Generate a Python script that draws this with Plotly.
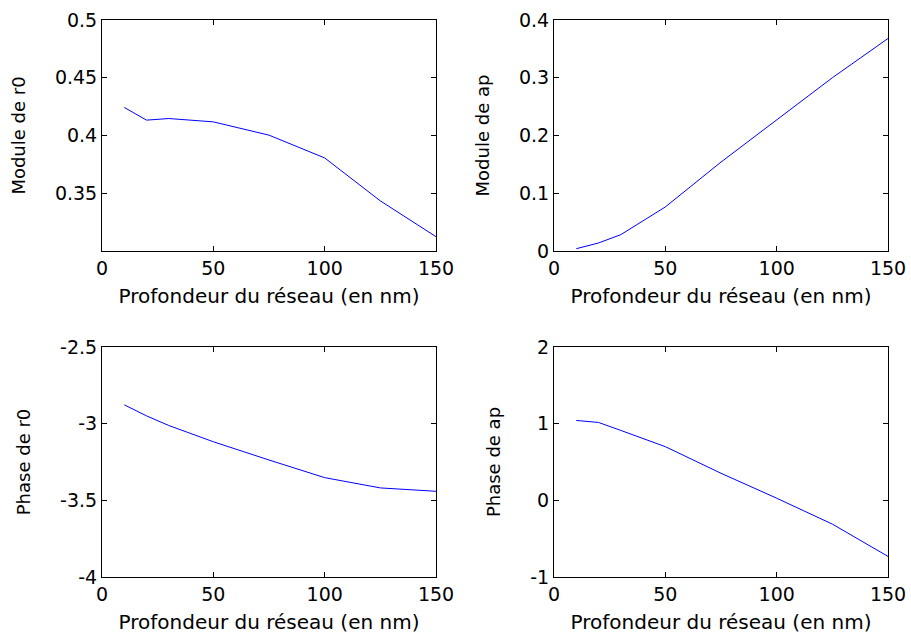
import plotly.graph_objects as go

depth = [10, 20, 30, 50, 75, 100, 125, 150]
module_r0 = [0.4243, 0.4133, 0.4147, 0.4118, 0.4003, 0.3806, 0.3434, 0.3124]
module_ap = [0.004, 0.0139, 0.0283, 0.0763, 0.154, 0.2277, 0.300, 0.368]
phase_r0 = [-2.877, -2.949, -3.012, -3.118, -3.237, -3.352, -3.419, -3.441]
phase_ap = [1.042, 1.016, 0.912, 0.700, 0.353, 0.028, -0.310, -0.731]

x_ticks = [0, 50, 100, 150]
x_ticktext = ["0", "50", "100", "150"]
xlabel = "Profondeur du réseau (en nm)"

panels = [
    dict(y=module_r0, title="Module de r0", rng=[0.3, 0.5],
         tv=[0.35, 0.4, 0.45, 0.5], tt=["0.35", "0.4", "0.45", "0.5"]),
    dict(y=module_ap, title="Module de ap", rng=[0, 0.4],
         tv=[0, 0.1, 0.2, 0.3, 0.4], tt=["0", "0.1", "0.2", "0.3", "0.4"]),
    dict(y=phase_r0, title="Phase de r0", rng=[-4, -2.5],
         tv=[-4, -3.5, -3, -2.5], tt=["-4", "-3.5", "-3", "-2.5"]),
    dict(y=phase_ap, title="Phase de ap", rng=[-1, 2],
         tv=[-1, 0, 1, 2], tt=["-1", "0", "1", "2"]),
]

W, H = 911, 636
xdoms = [[102 / W, 436 / W], [554 / W, 888 / W]]
ydoms = [[1 - 251 / H, 1 - 20 / H], [1 - 577 / H, 1 - 347 / H]]

font = "DejaVu Sans, sans-serif"
fig = go.Figure()
layout = dict(width=W, height=H, margin=dict(l=0, r=0, t=0, b=0, autoexpand=False),
              paper_bgcolor="white", plot_bgcolor="white", showlegend=False,
              font=dict(family=font, color="black", size=19))

for i, p in enumerate(panels):
    n = i + 1
    sfx = "" if n == 1 else str(n)
    fig.add_trace(go.Scatter(x=depth, y=p["y"], mode="lines",
                             line=dict(color="#0000ff", width=1),
                             xaxis="x" + sfx, yaxis="y" + sfx))
    row, col = divmod(i, 2)
    common = dict(showline=True, linecolor="black", linewidth=1, mirror="ticks",
                  ticks="inside", ticklen=5, tickcolor="black", showgrid=False,
                  zeroline=False, automargin=False, tickfont=dict(size=19, family=font))
    layout["xaxis" + sfx] = dict(domain=xdoms[col], anchor="y" + sfx, range=[0, 150],
                                 tickvals=x_ticks, ticktext=x_ticktext,
                                 title=dict(text=xlabel, font=dict(size=20, family=font), standoff=11),
                                 **common)
    layout["yaxis" + sfx] = dict(domain=ydoms[row], anchor="x" + sfx, range=p["rng"],
                                 tickvals=p["tv"], ticktext=p["tt"],
                                 title=dict(text=p["title"], font=dict(size=18, family=font), standoff=24),
                                 **common)

fig.update_layout(**layout)
fig.write_html("out.html", config={"displayModeBar": False},
               post_script="document.body.style.margin='0';document.body.style.overflow='hidden';")
